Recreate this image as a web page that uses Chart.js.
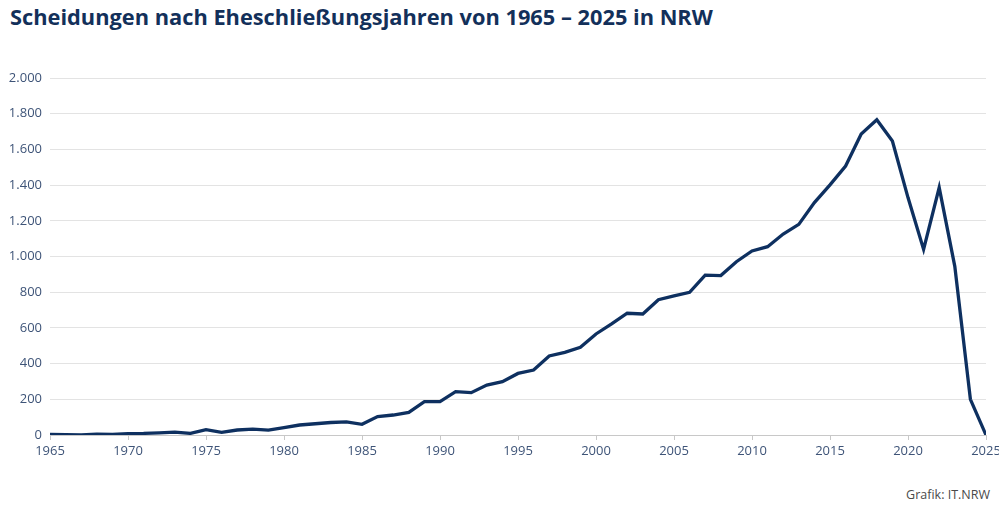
<!DOCTYPE html>
<html lang="de">
<head>
<meta charset="utf-8">
<script src="https://cdn.jsdelivr.net/npm/chart.js@4.4.1/dist/chart.umd.min.js"></script>
<style>
  html, body { margin: 0; padding: 0; background: #fff; overflow: hidden; }
  #page { position: relative; width: 999px; height: 510px; overflow: hidden; }
  #title { position: absolute; left: 10px; top: 2px; font-family: "Open Sans", sans-serif; font-weight: 700; font-size: 21.8px; color: #13305a; white-space: nowrap; }
  #wrap { position: absolute; left: 0; top: 60px; width: 1020px; height: 410px; }
  #credit { position: absolute; right: 9px; top: 486px; font-family: "Open Sans", sans-serif; font-size: 12.5px; color: #4a4a4a; }
</style>
</head>
<body>
<div id="page">
  <div id="title">Scheidungen nach Eheschließungsjahren von 1965 – 2025 in NRW</div>
  <div id="wrap"><canvas id="c"></canvas></div>
  <div id="credit">Grafik: IT.NRW</div>
</div>
<script>
const years = [1965,1966,1967,1968,1969,1970,1971,1972,1973,1974,1975,1976,1977,1978,1979,1980,1981,1982,1983,1984,1985,1986,1987,1988,1989,1990,1991,1992,1993,1994,1995,1996,1997,1998,1999,2000,2001,2002,2003,2004,2005,2006,2007,2008,2009,2010,2011,2012,2013,2014,2015,2016,2017,2018,2019,2020,2021,2022,2023,2024,2025];
const divorces = [4,2,1,5,3,8,9,12,16,9,30,15,28,33,27,42,56,63,70,73,60,103,112,127,187,187,243,237,280,299,345,364,443,463,491,566,622,682,678,758,779,799,896,893,971,1031,1055,1126,1180,1302,1401,1507,1686,1766,1647,1330,1040,1386,945,200,0];
const yTicks = [0,200,400,600,800,1000,1200,1400,1600,1800,2000];
const xTicks = [1965,1970,1975,1980,1985,1990,1995,2000,2005,2010,2015,2020,2025];

function deFmt(v) {
  return String(Math.round(v)).replace(/\B(?=(\d{3})+(?!\d))/g, '.');
}

const points = years.map((y, i) => ({ x: y, y: divorces[i] }));
const tickFont = { family: "'Open Sans', sans-serif", size: 13 };

new Chart(document.getElementById('c'), {
  type: 'line',
  data: {
    datasets: [{
      data: points,
      borderColor: '#0e3060',
      borderWidth: 3.3,
      pointRadius: 0,
      tension: 0,
      fill: false
    }]
  },
  options: {
    responsive: true,
    maintainAspectRatio: false,
    animation: false,
    devicePixelRatio: 1,
    layout: { padding: { top: 18, left: 0, right: 34, bottom: 0 } },
    plugins: { legend: { display: false }, tooltip: { enabled: false }, title: { display: false } },
    scales: {
      x: {
        type: 'linear',
        min: 1965, max: 2025,
        afterBuildTicks: s => { s.ticks = xTicks.map(v => ({ value: v })); },
        afterFit: s => { s.height = 35; },
        ticks: { callback: v => String(v), color: '#3e5478', font: tickFont, padding: 3, maxRotation: 0, autoSkip: false },
        grid: { drawOnChartArea: false, drawTicks: true, tickLength: 5, color: '#c8c8c8' },
        border: { display: true, color: '#c8c8c8', width: 1 }
      },
      y: {
        min: 0, max: 2000,
        afterBuildTicks: s => { s.ticks = yTicks.map(v => ({ value: v })); },
        afterFit: s => { s.width = 50; },
        ticks: { callback: v => deFmt(v), color: '#3e5478', font: tickFont, padding: 8 },
        grid: { color: '#e3e3e3', drawTicks: false, lineWidth: 1 },
        border: { display: false }
      }
    }
  }
});
</script>
</body>
</html>
